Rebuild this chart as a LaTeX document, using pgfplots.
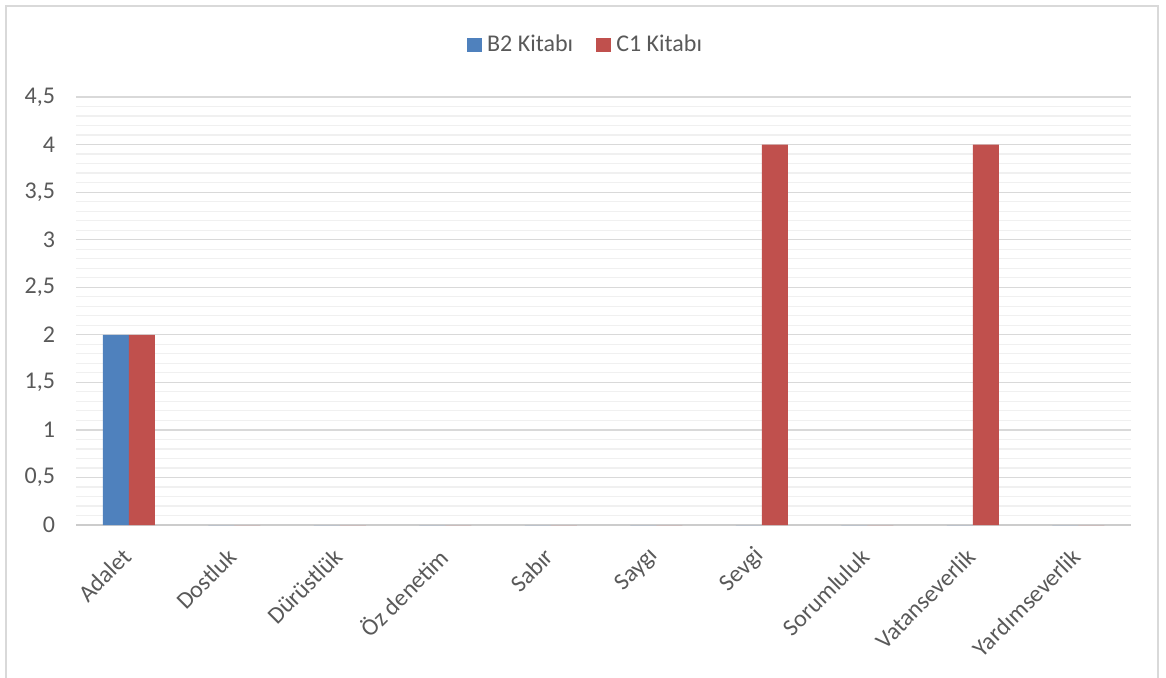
\documentclass[border=0pt]{standalone}
\usepackage{pgfplots}
\pgfplotsset{compat=1.18}
\usepackage{fontspec}
\setmainfont{Carlito}
\definecolor{bblue}{HTML}{4F81BD}
\definecolor{cred}{HTML}{C0504D}
\definecolor{txt}{HTML}{595959}
\begin{document}
\begin{tikzpicture}
\useasboundingbox (-38pt,-76pt) rectangle (545pt,262.5pt);
\begin{axis}[
  at={(0,0)}, anchor=south west,
  scale only axis, width=527.5pt, height=214pt,
  ybar=0pt, bar width=13pt,
  xmin=-0.5, xmax=9.5, ymin=0, ymax=4.5,
  xtick=data,
  xticklabels={Adalet, Dostluk, Dürüstlük, Öz denetim, Sabır, Saygı, Sevgi, Sorumluluk, Vatanseverlik, Yardımseverlik},
  ytick={0,0.5,...,4.5},
  minor y tick num=4,
  ymajorgrids, yminorgrids,
  major grid style={draw=black!15, line width=0.6pt},
  minor grid style={draw=black!6, line width=0.6pt},
  axis x line*=bottom, axis y line*=left,
  y axis line style={draw=none},
  x axis line style={draw=black!20, line width=0.7pt},
  tick style={draw=none}, major tick length=0pt, minor tick length=0pt,
  /pgf/number format/assume math mode=true,
  /pgf/number format/use comma,
  yticklabel style={font=\fontsize{12}{14}\selectfont, text=txt, xshift=-7pt},
  xticklabel style={font=\fontsize{12}{14}\selectfont, text=txt, rotate=45, anchor=east, inner sep=1pt},
  xticklabel shift=13pt,
  legend style={at={(0.4834,1.1215)}, anchor=center, draw=none, fill=none,
    font=\fontsize{12}{14}\selectfont, text=txt, legend columns=2,
    /tikz/every even column/.append style={column sep=10pt},
    nodes={inner sep=1.5pt}},
  legend image code/.code={\fill[#1] (0pt,-3.6pt) rectangle (7.5pt,3.6pt); \path (8.6pt,0pt);},
]
\addplot[fill=bblue, draw=none] coordinates {(0,2) (1,0) (2,0) (3,0) (4,0) (5,0) (6,0) (7,0) (8,0) (9,0)};
\addplot[fill=cred, draw=none] coordinates {(0,2) (1,0) (2,0) (3,0) (4,0) (5,0) (6,4) (7,0) (8,4) (9,0)};
\legend{B2 Kitabı, C1 Kitabı}
\end{axis}
\draw[black!15, line width=1pt] (-35pt,-80pt) -- (-35pt,259.5pt) -- (541pt,259.5pt) -- (541pt,-80pt);
\end{tikzpicture}
\end{document}
